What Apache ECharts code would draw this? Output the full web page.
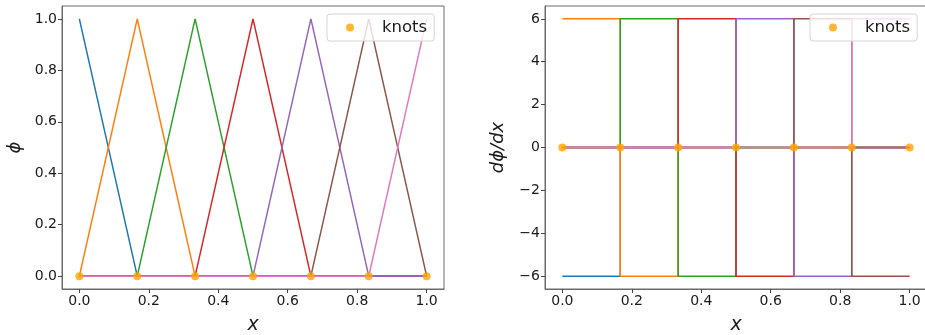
<!DOCTYPE html>
<html><head><meta charset="utf-8">
<script src="https://cdn.jsdelivr.net/npm/echarts@6/dist/echarts.min.js"></script>
<style>html,body{margin:0;padding:0;background:#fff}#c{width:925px;height:335px}</style>
</head><body><div id="c"></div>
<script>
// knot locations
var knots = [0, 0.1667, 0.3333, 0.5, 0.6667, 0.8333, 1.0];
var knotValues = [0, 0, 0, 0, 0, 0, 0];
// basis function values at the knots (hat functions)
var phi0 = [1, 0, 0, 0, 0, 0, 0];
var phi1 = [0, 1, 0, 0, 0, 0, 0];
var phi2 = [0, 0, 1, 0, 0, 0, 0];
var phi3 = [0, 0, 0, 1, 0, 0, 0];
var phi4 = [0, 0, 0, 0, 1, 0, 0];
var phi5 = [0, 0, 0, 0, 0, 1, 0];
var phi6 = [0, 0, 0, 0, 0, 0, 1];
// derivative values on each interval between knots
var dphi0 = [-6, 0, 0, 0, 0, 0];
var dphi1 = [6, -6, 0, 0, 0, 0];
var dphi2 = [0, 6, -6, 0, 0, 0];
var dphi3 = [0, 0, 6, -6, 0, 0];
var dphi4 = [0, 0, 0, 6, -6, 0];
var dphi5 = [0, 0, 0, 0, 6, -6];
var dphi6 = [0, 0, 0, 0, 0, 6];
// tick labels
var xTicks = [0, 0.2, 0.4, 0.6, 0.8, 1.0];
var yTicksLeft = [0, 0.2, 0.4, 0.6, 0.8, 1.0];
var yTicksRight = [-6, -4, -2, 0, 2, 4, 6];

var colors = ['#1f77b4', '#ff7f0e', '#2ca02c', '#d62728', '#9467bd', '#8c564b', '#e377c2'];
var phis = [phi0, phi1, phi2, phi3, phi4, phi5, phi6];
var dphis = [dphi0, dphi1, dphi2, dphi3, dphi4, dphi5, dphi6];
var FONT = 'DejaVu Sans';
var frameColor = '#6a6a6a';
var tickColor = '#444';
var textColor = '#1a1a1a';

function fmt1(v) { return (Math.round(v * 10) / 10).toFixed(1); }
function fmtInt(v) { var r = Math.round(v); return (r < 0 ? '\u2212' + Math.abs(r) : '' + r); }

function xAxis(gi) {
  return {
    type: 'value', gridIndex: gi, min: -0.05, max: 1.05,
    name: 'x', nameLocation: 'middle', nameGap: 27,
    nameTextStyle: { fontFamily: FONT, fontStyle: 'italic', fontSize: 19, color: textColor },
    axisLine: { show: true, onZero: false, lineStyle: { color: frameColor, width: 1 } },
    axisTick: { show: true, inside: false, length: 4, customValues: xTicks, lineStyle: { color: tickColor } },
    axisLabel: { customValues: xTicks, formatter: fmt1, fontFamily: FONT, fontSize: 14, color: textColor, margin: 5 },
    splitLine: { show: false }
  };
}
function yAxis(gi, mn, mx, ticks, f, name, gap) {
  return {
    type: 'value', gridIndex: gi, min: mn, max: mx,
    name: name, nameLocation: 'middle', nameGap: gap, nameRotate: 90,
    nameTextStyle: { fontFamily: FONT, fontStyle: 'italic', fontSize: 18, color: textColor },
    axisLine: { show: true, onZero: false, lineStyle: { color: frameColor, width: 1 } },
    axisTick: { show: true, inside: false, length: 4, customValues: ticks, lineStyle: { color: tickColor } },
    axisLabel: { customValues: ticks, formatter: f, fontFamily: FONT, fontSize: 14, color: textColor, margin: 5 },
    splitLine: { show: false }
  };
}

var series = [];
phis.forEach(function (p, i) {
  series.push({
    type: 'line', xAxisIndex: 0, yAxisIndex: 0, name: 'phi' + i,
    data: knots.map(function (k, j) { return [k, p[j]]; }),
    showSymbol: false, symbol: 'none', lineStyle: { color: colors[i], width: 1.5 },
    itemStyle: { color: colors[i] }, z: 2 + i, silent: true
  });
});
series.push({
  type: 'scatter', xAxisIndex: 0, yAxisIndex: 0, name: 'knots',
  data: knots.map(function (k, j) { return [k, knotValues[j]]; }),
  symbol: 'circle', symbolSize: 8, itemStyle: { color: '#ffa500' }, z: 20
});
dphis.forEach(function (d, i) {
  var pts = [];
  for (var k = 0; k < d.length; k++) {
    pts.push([knots[k], d[k]]);
    pts.push([knots[k + 1], d[k]]);
  }
  series.push({
    type: 'line', xAxisIndex: 1, yAxisIndex: 1, name: 'dphi' + i,
    data: pts, showSymbol: false, symbol: 'none',
    lineStyle: { color: colors[i], width: 1.5 }, itemStyle: { color: colors[i] }, z: 2 + i, silent: true
  });
});
series.push({
  type: 'scatter', xAxisIndex: 1, yAxisIndex: 1, name: 'knots',
  data: knots.map(function (k, j) { return [k, knotValues[j]]; }),
  symbol: 'circle', symbolSize: 8, itemStyle: { color: '#ffa500' }, z: 20
});

function legend(left) {
  return {
    data: ['knots'], left: left, top: 14, orient: 'vertical',
    icon: 'circle', itemWidth: 8, itemHeight: 8,
    padding: [5, 7, 5, 19],
    backgroundColor: 'rgba(255,255,255,0.8)', borderColor: '#d5d5d5', borderWidth: 1, borderRadius: 3,
    textStyle: { fontFamily: FONT, fontSize: 16.5, color: textColor, padding: [0, 0, 0, 23] },
    selectedMode: false, z: 30
  };
}

var chart = echarts.init(document.getElementById('c'), null, { renderer: 'canvas' });
chart.setOption({
  animation: false,
  backgroundColor: '#fff',
  grid: [
    { left: 62, top: 6, width: 382, height: 283, containLabel: false, outerBoundsMode: 'none', show: true, borderColor: frameColor, borderWidth: 1, backgroundColor: 'transparent' },
    { left: 545, top: 6, width: 382, height: 283, containLabel: false, outerBoundsMode: 'none', show: true, borderColor: frameColor, borderWidth: 1, backgroundColor: 'transparent' }
  ],
  legend: [legend(327), legend(810)],
  xAxis: [xAxis(0), xAxis(1)],
  yAxis: [
    yAxis(0, -0.05, 1.05, yTicksLeft, fmt1, '\u03d5', 38),
    yAxis(1, -6.6, 6.6, yTicksRight, fmtInt, 'd\u03d5/dx', 38)
  ],
  series: series
});
</script>
</body></html>
